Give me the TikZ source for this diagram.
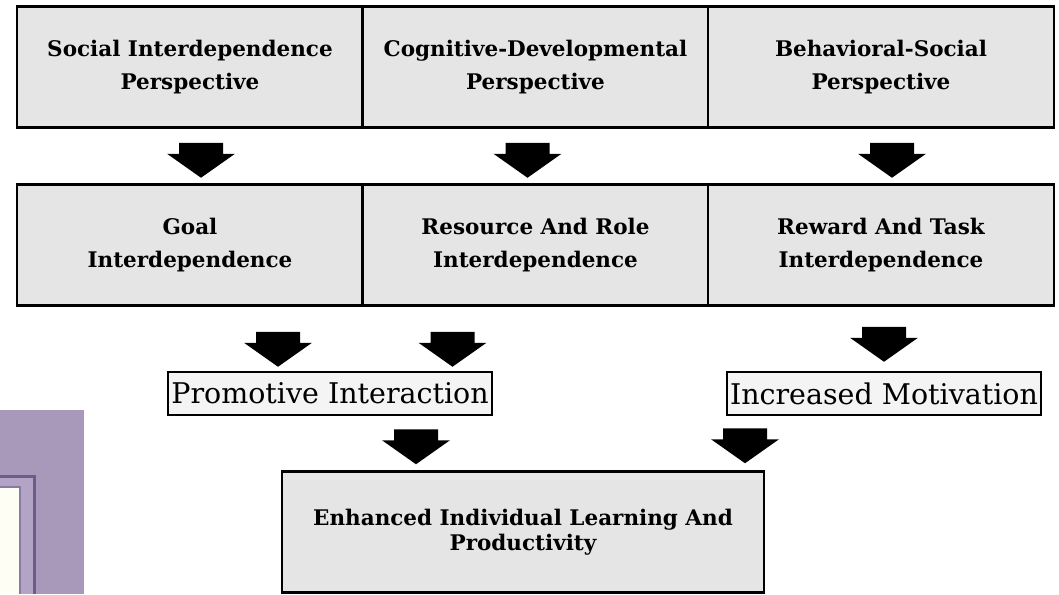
\documentclass[tikz,border=0pt]{standalone}
\usepackage{fontspec}
\setmainfont{DejaVu Serif}
\usetikzlibrary{calc}
\definecolor{halftone}{gray}{0.9}
\definecolor{mauve}{HTML}{A898B9}
\definecolor{mauvedark}{HTML}{6C5B8C}
\definecolor{mauvelight}{HTML}{B3A4C6}
\tikzset{cell/.style={draw,line width=2.5pt,fill=halftone,minimum width=346pt,
                      minimum height=121pt,align=center,inner sep=0pt,
                      font=\bfseries\fontsize{21.5}{33}\selectfont},
         tag/.style={draw,line width=2.5pt,fill=halftone!45,minimum height=43pt,
                     inner sep=0pt,font=\fontsize{28.5}{32}\selectfont},
         downarrow/.pic={\fill (-22,0) -- (22,0) -- (22,11) -- (34,11) -- (0,35)
                         -- (-34,11) -- (-22,11) -- cycle;}}

\begin{document}
\begin{tikzpicture}[x=1pt,y=-1pt]
\useasboundingbox (0,0) rectangle (1059,594);
% corner of the page behind
\fill[mauve] (0,410) rectangle (84,594);
\fill[mauvelight] (0,476) rectangle (34,594);
\draw[mauvedark,line width=3pt] (0,476) -- (34,476) -- (34,594);
\fill[white!96!yellow] (0,487) rectangle (20,594);
\draw[mauvedark!80,line width=2pt] (0,487) -- (20,487) -- (20,594);

% perspectives
\node[cell] (soc) at (190,67) {Social Interdependence\\Perspective};
\node[cell] (cog) at (535.5,67) {Cognitive-Developmental\\Perspective};
\node[cell] (beh) at (881,67) {Behavioral-Social\\Perspective};

% interdependences
\node[cell] (goal) at (190,245) {Goal\\Interdependence};
\node[cell] (res) at (535.5,245) {Resource And Role\\Interdependence};
\node[cell] (rew) at (881,245) {Reward And Task\\Interdependence};

\node[tag,minimum width=324pt] (prom) at (330,393.5) {Promotive Interaction};
\node[tag,minimum width=314pt] (motiv) at (884,393.5) {Increased Motivation};

\node[cell,minimum width=482pt,font=\bfseries\fontsize{21.5}{25}\selectfont] (out) at (523,532)
  {Enhanced Individual Learning And\\Productivity};

% block arrows
\pic at ($(soc.south)+(11,14)$) {downarrow};
\pic at ($(cog.south)+(-8,14)$) {downarrow};
\pic at ($(beh.south)+(11,14)$) {downarrow};
\pic at ($(goal.south)+(88,25)$) {downarrow};
\pic at ($(res.south)+(-83,25)$) {downarrow};
\pic at ($(rew.south)+(3,20)$) {downarrow};
\pic at ($(prom.south)+(86,13)$) {downarrow};
\pic at ($(motiv.south)+(-139,12)$) {downarrow};
\end{tikzpicture}
\end{document}
